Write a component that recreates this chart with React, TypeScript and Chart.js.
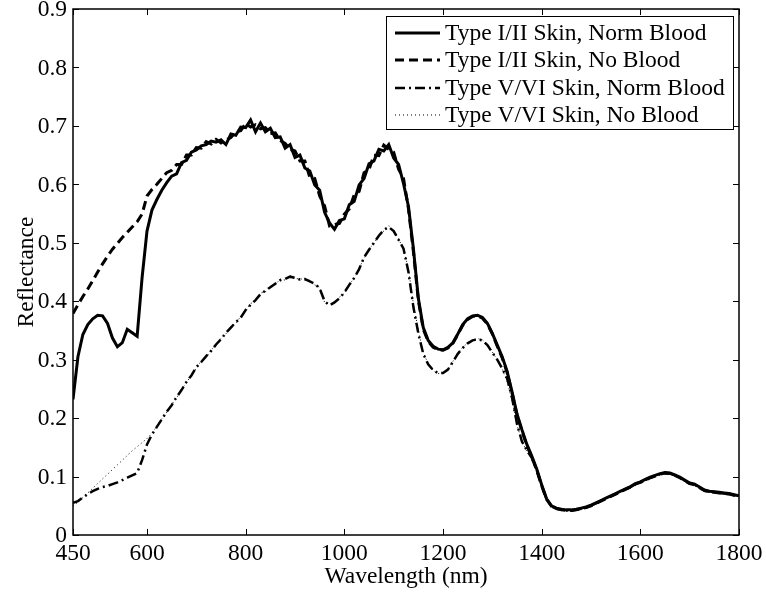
import React, { useEffect, useRef } from "react";
import { Chart, registerables } from "chart.js";

Chart.register(...registerables);

const WAVELENGTH = [
  450, 460, 470, 480, 490, 500, 510, 520, 530, 540,
  550, 560, 570, 580, 590, 600, 610, 620, 630, 640,
  650, 660, 670, 680, 690, 700, 710, 720, 730, 740,
  750, 760, 770, 780, 790, 800, 810, 820, 830, 840,
  850, 860, 870, 880, 890, 900, 910, 920, 930, 940,
  950, 960, 970, 980, 990, 1000, 1010, 1020, 1030, 1040,
  1050, 1060, 1070, 1080, 1090, 1100, 1110, 1120, 1130, 1140,
  1150, 1160, 1170, 1180, 1190, 1200, 1210, 1220, 1230, 1240,
  1250, 1260, 1270, 1280, 1290, 1300, 1310, 1320, 1330, 1340,
  1350, 1360, 1370, 1380, 1390, 1400, 1410, 1420, 1430, 1440,
  1450, 1460, 1470, 1480, 1490, 1500, 1510, 1520, 1530, 1540,
  1550, 1560, 1570, 1580, 1590, 1600, 1610, 1620, 1630, 1640,
  1650, 1660, 1670, 1680, 1690, 1700, 1710, 1720, 1730, 1740,
  1750, 1760, 1770, 1780, 1790, 1800,
];

const TYPE12_NORM_BLOOD = [
  0.232, 0.305, 0.343, 0.360, 0.370, 0.376, 0.375, 0.362, 0.337, 0.322,
  0.329, 0.352, 0.346, 0.340, 0.440, 0.520, 0.556, 0.574, 0.590, 0.603,
  0.614, 0.618, 0.637, 0.641, 0.655, 0.659, 0.666, 0.668, 0.674, 0.672,
  0.676, 0.668, 0.686, 0.684, 0.698, 0.697, 0.710, 0.690, 0.705, 0.690,
  0.696, 0.680, 0.681, 0.662, 0.668, 0.646, 0.650, 0.628, 0.623, 0.599,
  0.590, 0.552, 0.534, 0.523, 0.538, 0.541, 0.565, 0.571, 0.599, 0.610,
  0.635, 0.640, 0.660, 0.657, 0.668, 0.645, 0.634, 0.601, 0.562, 0.490,
  0.405, 0.355, 0.333, 0.323, 0.318, 0.317, 0.321, 0.329, 0.344, 0.360,
  0.370, 0.375, 0.376, 0.372, 0.362, 0.345, 0.325, 0.305, 0.280, 0.245,
  0.207, 0.180, 0.155, 0.135, 0.113, 0.086, 0.062, 0.050, 0.046, 0.044,
  0.043, 0.043, 0.044, 0.046, 0.048, 0.051, 0.055, 0.059, 0.063, 0.067,
  0.071, 0.075, 0.079, 0.083, 0.088, 0.091, 0.095, 0.099, 0.102, 0.105,
  0.107, 0.106, 0.103, 0.099, 0.094, 0.089, 0.087, 0.082, 0.077, 0.075,
  0.074, 0.073, 0.072, 0.071, 0.069, 0.067,
];

const TYPE12_NO_BLOOD = [
  0.379, 0.394, 0.408, 0.421, 0.435, 0.450, 0.464, 0.477, 0.489, 0.499,
  0.509, 0.518, 0.527, 0.536, 0.549, 0.580, 0.591, 0.600, 0.610, 0.620,
  0.624, 0.634, 0.634, 0.650, 0.650, 0.663, 0.662, 0.673, 0.669, 0.677,
  0.671, 0.676, 0.680, 0.690, 0.692, 0.704, 0.698, 0.702, 0.695, 0.697,
  0.687, 0.688, 0.675, 0.670, 0.660, 0.657, 0.640, 0.640, 0.612, 0.610,
  0.580, 0.563, 0.529, 0.531, 0.533, 0.549, 0.558, 0.582, 0.588, 0.620,
  0.625, 0.650, 0.649, 0.667, 0.660, 0.655, 0.626, 0.610, 0.558, 0.485,
  0.402, 0.352, 0.331, 0.321, 0.317, 0.316, 0.320, 0.328, 0.343, 0.359,
  0.369, 0.374, 0.375, 0.371, 0.361, 0.344, 0.323, 0.303, 0.278, 0.243,
  0.205, 0.178, 0.153, 0.133, 0.111, 0.084, 0.061, 0.049, 0.045, 0.043,
  0.042, 0.042, 0.043, 0.045, 0.047, 0.050, 0.054, 0.058, 0.062, 0.066,
  0.070, 0.074, 0.078, 0.082, 0.087, 0.090, 0.094, 0.098, 0.101, 0.104,
  0.106, 0.105, 0.102, 0.098, 0.093, 0.088, 0.086, 0.081, 0.076, 0.074,
  0.073, 0.072, 0.071, 0.070, 0.068, 0.066,
];

const TYPE56_NORM_BLOOD = [
  0.055, 0.058, 0.064, 0.070, 0.075, 0.079, 0.082, 0.084, 0.087, 0.090,
  0.094, 0.098, 0.102, 0.106, 0.128, 0.155, 0.172, 0.185, 0.198, 0.211,
  0.222, 0.236, 0.248, 0.262, 0.273, 0.287, 0.296, 0.306, 0.315, 0.326,
  0.335, 0.346, 0.355, 0.364, 0.372, 0.385, 0.394, 0.402, 0.412, 0.418,
  0.424, 0.430, 0.436, 0.438, 0.442, 0.440, 0.437, 0.438, 0.434, 0.430,
  0.422, 0.400, 0.393, 0.398, 0.405, 0.415, 0.428, 0.440, 0.455, 0.475,
  0.488, 0.500, 0.512, 0.522, 0.527, 0.520, 0.505, 0.490, 0.450, 0.390,
  0.345, 0.310, 0.292, 0.282, 0.277, 0.277, 0.283, 0.296, 0.310, 0.320,
  0.328, 0.333, 0.335, 0.333, 0.325, 0.312, 0.300, 0.285, 0.268, 0.235,
  0.190, 0.160, 0.145, 0.132, 0.111, 0.085, 0.061, 0.049, 0.045, 0.043,
  0.042, 0.042, 0.043, 0.045, 0.047, 0.050, 0.054, 0.058, 0.062, 0.066,
  0.070, 0.074, 0.078, 0.082, 0.087, 0.090, 0.094, 0.098, 0.101, 0.104,
  0.106, 0.105, 0.102, 0.098, 0.093, 0.088, 0.086, 0.081, 0.076, 0.074,
  0.073, 0.072, 0.071, 0.070, 0.068, 0.066,
];

const TYPE56_NO_BLOOD = [
  0.050, 0.056, 0.064, 0.072, 0.080, 0.088, 0.096, 0.104, 0.112, 0.120,
  0.128, 0.136, 0.144, 0.151, 0.158, 0.165, 0.174, 0.186, 0.199, 0.210,
  0.224, 0.234, 0.250, 0.260, 0.275, 0.285, 0.298, 0.304, 0.317, 0.324,
  0.337, 0.344, 0.357, 0.362, 0.374, 0.383, 0.396, 0.400, 0.414, 0.416,
  0.426, 0.428, 0.438, 0.436, 0.444, 0.438, 0.439, 0.436, 0.436, 0.428,
  0.424, 0.398, 0.395, 0.396, 0.407, 0.413, 0.430, 0.438, 0.457, 0.473,
  0.490, 0.498, 0.514, 0.520, 0.529, 0.518, 0.507, 0.488, 0.455, 0.395,
  0.350, 0.312, 0.293, 0.281, 0.276, 0.278, 0.284, 0.297, 0.311, 0.321,
  0.329, 0.334, 0.336, 0.334, 0.326, 0.313, 0.300, 0.284, 0.262, 0.230,
  0.188, 0.160, 0.143, 0.130, 0.110, 0.084, 0.060, 0.048, 0.044, 0.042,
  0.042, 0.042, 0.043, 0.045, 0.047, 0.050, 0.054, 0.058, 0.062, 0.066,
  0.070, 0.074, 0.078, 0.082, 0.087, 0.090, 0.094, 0.098, 0.101, 0.104,
  0.106, 0.105, 0.102, 0.098, 0.093, 0.088, 0.086, 0.081, 0.076, 0.074,
  0.073, 0.072, 0.071, 0.070, 0.068, 0.066,
];

const SERIES_LABELS = [
  "Type I/II Skin, Norm Blood",
  "Type I/II Skin, No Blood",
  "Type V/VI Skin, Norm Blood",
  "Type V/VI Skin, No Blood",
];

const X_TICKS = [450, 600, 800, 1000, 1200, 1400, 1600, 1800];
const Y_TICKS = [0, 0.1, 0.2, 0.3, 0.4, 0.5, 0.6, 0.7, 0.8, 0.9];
const Y_TICK_LABELS = ["0", "0.1", "0.2", "0.3", "0.4", "0.5", "0.6", "0.7", "0.8", "0.9"];
const X_TITLE = "Wavelength (nm)";
const Y_TITLE = "Reflectance";

const STYLES = [
  { width: 3, dash: [] as number[] },
  { width: 3, dash: [9, 5] },
  { width: 2.5, dash: [10, 4, 2, 4] },
  { width: 1, dash: [1, 3] },
];

const FONT = "23.5px 'Liberation Serif', 'Times New Roman', serif";

const decorPlugin = {
  id: "decor",
  afterDraw(chart: any) {
    const ctx = chart.ctx as CanvasRenderingContext2D;
    const area = chart.chartArea;
    const xs = chart.scales.x;
    const ys = chart.scales.y;
    ctx.save();
    ctx.strokeStyle = "#000";
    ctx.fillStyle = "#000";
    ctx.lineWidth = 1.5;
    ctx.setLineDash([]);
    ctx.strokeRect(area.left, area.top, area.right - area.left, area.bottom - area.top);
    ctx.lineWidth = 1;
    const tl = 6;
    X_TICKS.forEach((v) => {
      const px = Math.round(xs.getPixelForValue(v)) + 0.5;
      ctx.beginPath();
      ctx.moveTo(px, area.bottom);
      ctx.lineTo(px, area.bottom - tl);
      ctx.moveTo(px, area.top);
      ctx.lineTo(px, area.top + tl);
      ctx.stroke();
    });
    Y_TICKS.forEach((v) => {
      const py = Math.round(ys.getPixelForValue(v)) + 0.5;
      ctx.beginPath();
      ctx.moveTo(area.left, py);
      ctx.lineTo(area.left + tl, py);
      ctx.moveTo(area.right, py);
      ctx.lineTo(area.right - tl, py);
      ctx.stroke();
    });
    ctx.font = FONT;
    ctx.textAlign = "center";
    ctx.textBaseline = "alphabetic";
    X_TICKS.forEach((v) => {
      ctx.fillText(String(v), xs.getPixelForValue(v), area.bottom + 25);
    });
    ctx.textAlign = "right";
    ctx.textBaseline = "middle";
    Y_TICKS.forEach((v, i) => {
      ctx.fillText(Y_TICK_LABELS[i], area.left - 6, ys.getPixelForValue(v) + 1);
    });
    ctx.textAlign = "center";
    ctx.textBaseline = "alphabetic";
    ctx.fillText(X_TITLE, (area.left + area.right) / 2, area.bottom + 48);
    ctx.save();
    ctx.translate(33, (area.top + area.bottom) / 2);
    ctx.rotate(-Math.PI / 2);
    ctx.fillText(Y_TITLE, 0, 0);
    ctx.restore();
    const lx = 386.5, ly = 16.5, lw = 347, lh = 113;
    ctx.fillStyle = "#fff";
    ctx.fillRect(lx, ly, lw, lh);
    ctx.strokeStyle = "#000";
    ctx.lineWidth = 1;
    ctx.strokeRect(lx, ly, lw, lh);
    const rows = [33, 60, 88, 115];
    SERIES_LABELS.forEach((label, i) => {
      const y = rows[i];
      ctx.save();
      ctx.lineWidth = STYLES[i].width;
      ctx.setLineDash(STYLES[i].dash);
      ctx.beginPath();
      ctx.moveTo(395, y);
      ctx.lineTo(440, y);
      ctx.stroke();
      ctx.restore();
      ctx.fillStyle = "#000";
      ctx.textAlign = "left";
      ctx.textBaseline = "middle";
      ctx.fillText(label, 445, y + 1);
    });
    ctx.restore();
  },
};

export default function App() {
  const ref = useRef<HTMLCanvasElement | null>(null);
  useEffect(() => {
    if (!ref.current) return;
    const seriesValues = [TYPE12_NORM_BLOOD, TYPE12_NO_BLOOD, TYPE56_NORM_BLOOD, TYPE56_NO_BLOOD];
    const chart = new Chart(ref.current, {
      type: "line",
      data: {
        datasets: seriesValues.map((vals, i) => ({
          label: SERIES_LABELS[i],
          data: WAVELENGTH.map((w, j) => ({ x: w, y: vals[j] })),
          borderColor: "#000",
          backgroundColor: "#000",
          borderWidth: STYLES[i].width,
          borderDash: STYLES[i].dash,
          pointRadius: 0,
          tension: 0,
          fill: false,
        })),
      },
      options: {
        animation: false,
        responsive: false,
        devicePixelRatio: 1,
        layout: { padding: { left: 73, top: 9, right: 27, bottom: 57 } },
        plugins: { legend: { display: false }, tooltip: { enabled: false } },
        scales: {
          x: { type: "linear", min: 450, max: 1800, display: false },
          y: { type: "linear", min: 0, max: 0.9, display: false },
        },
      },
      plugins: [decorPlugin],
    });
    return () => chart.destroy();
  }, []);
  return (
    <div style={{ position: "fixed", left: 0, top: 0, width: 766, height: 592, background: "#fff" }}>
      <canvas ref={ref} width={766} height={592} style={{ width: 766, height: 592 }} />
    </div>
  );
}
